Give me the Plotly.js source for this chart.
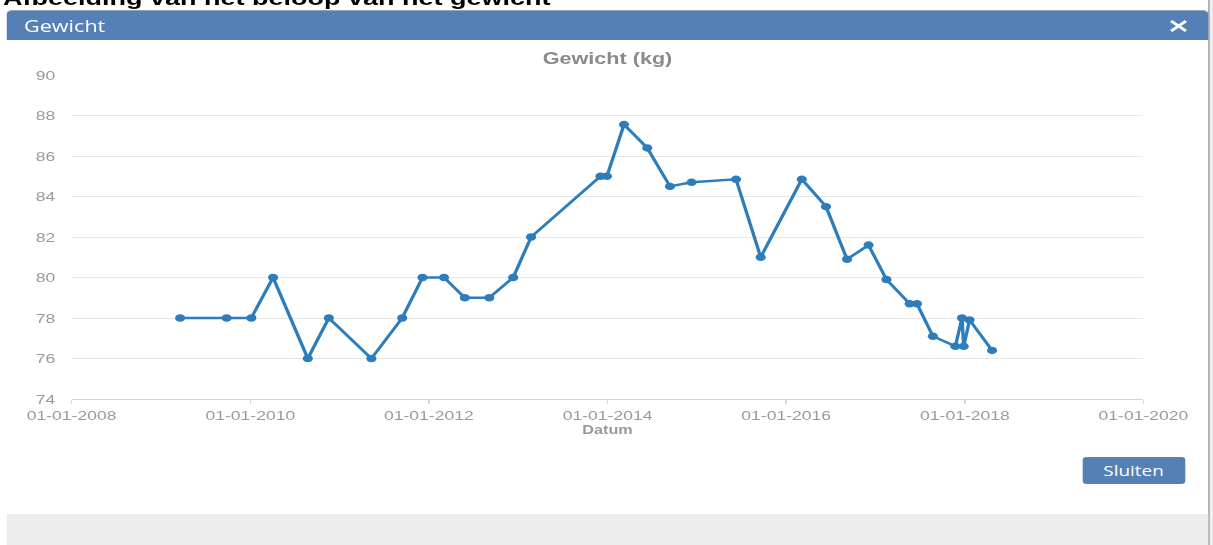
<!DOCTYPE html>
<html>
<head>
<meta charset="utf-8">
<script src="https://cdn.plot.ly/plotly-3.0.1.min.js"></script>
<style>
  html, body { margin:0; padding:0; background:#ffffff; width:1213px; height:545px; overflow:hidden; }
  #stage { position:absolute; left:0; top:0; width:898.5px; height:545px; transform:scaleX(1.35); transform-origin:0 0; }
  #caption { position:absolute; left:2.2px; top:-12px; font:bold 20px/20px "Liberation Sans", Arial, sans-serif; color:#000; white-space:nowrap; }
  #header { position:absolute; left:5.2px; top:10px; width:889.6px; height:30px; background:#5580b5; border-radius:4px 4px 0 0; border-top:1px solid #9aa5b3; box-sizing:border-box; }
  #header .t { position:absolute; left:12.6px; top:5px; font:16px/20px "Open Sans", "Liberation Sans", sans-serif; color:#fff; }
  #close { position:absolute; left:865.5px; top:20px; }
  #footer { position:absolute; left:5.2px; top:514px; width:889.6px; height:31px; background:#ececec; }
  #rightedge { position:absolute; left:894.8px; top:0; width:4px; height:545px; background:#eeeeee; border-left:1.2px solid #9a9a9a; }
  #btn { position:absolute; left:801.5px; top:457px; width:76.3px; height:27px; background:#5580b5; border-radius:3px; color:#fff; font:14px/27px "Open Sans", "Liberation Sans", sans-serif; text-align:center; }
  #plot { position:absolute; left:0; top:0; width:899px; height:545px; }
</style>
</head>
<body>
<div id="stage">
  <div id="caption">Afbeelding van het beloop van het gewicht</div>
  <div id="rightedge"></div>
  <div id="header"><span class="t">Gewicht</span></div>
  <svg id="close" width="14" height="12" viewBox="0 0 14 12"><path d="M1.5 1 L12.5 11 M12.5 1 L1.5 11" stroke="#ffffff" stroke-width="2.4" fill="none"/></svg>
  <div id="footer"></div>
  <div id="btn">Sluiten</div>
  <div id="plot"></div>
</div>
<script>
// ---- data ----
const dates = [
  '2009-03-20','2009-09-26','2010-01-05','2010-04-04','2010-08-24','2010-11-18',
  '2011-05-11','2011-09-14','2011-12-06','2012-03-03','2012-05-27','2012-09-04',
  '2012-12-11','2013-02-22','2013-12-03','2013-12-29','2014-03-09','2014-06-12',
  '2014-09-13','2014-12-10','2015-06-10','2015-09-19','2016-03-05','2016-06-12',
  '2016-09-06','2016-12-03','2017-02-14','2017-05-20','2017-06-19','2017-08-23',
  '2017-11-23','2017-12-20','2017-12-27','2018-01-20','2018-04-22'
];
const weights = [
  78, 78, 78, 80, 76, 78,
  76, 78, 80, 80, 79, 79,
  80, 82, 85, 85, 87.55, 86.4,
  84.5, 84.7, 84.85, 81, 84.85, 83.5,
  80.9, 81.6, 79.9, 78.7, 78.7, 77.1,
  76.6, 78, 76.6, 77.9, 76.4
];
const xTickVals = ['2008-01-01','2010-01-01','2012-01-01','2014-01-01','2016-01-01','2018-01-01','2020-01-01'];
const xTickText = ['01-01-2008','01-01-2010','01-01-2012','01-01-2014','01-01-2016','01-01-2018','01-01-2020'];
const yTickVals = [74, 76, 78, 80, 82, 84, 86, 88, 90];
const chartTitle = 'Gewicht (kg)';
const xTitle = 'Datum';

const FONT = '"Liberation Sans", Arial, sans-serif';
const trace = {
  type: 'scatter', mode: 'lines+markers',
  x: dates, y: weights,
  line: { color: '#2d7dbc', width: 2.5 },
  marker: { color: '#2d7dbc', size: 7.5, symbol: 'circle' },
  showlegend: false
};
const layout = {
  width: 899, height: 545,
  margin: { l: 53, r: 52, t: 75, b: 146, pad: 0 },
  paper_bgcolor: 'rgba(0,0,0,0)', plot_bgcolor: 'rgba(0,0,0,0)',
  font: { family: FONT, color: '#999999', size: 13 },
  title: { text: chartTitle, font: { family: FONT, size: 16, color: '#8a8a8a', weight: 'bold' },
           x: 0.5, xanchor: 'center', xref: 'paper', y: 1 - 58/545, yref: 'container', yanchor: 'middle' },
  xaxis: {
    type: 'date', range: ['2008-01-01', '2020-01-01'],
    tickmode: 'array', tickvals: xTickVals, ticktext: xTickText,
    ticks: 'outside', ticklen: 4, tickcolor: '#ccd6eb', tickwidth: 1,
    showline: true, linecolor: '#ccd6eb', linewidth: 1,
    showgrid: false, zeroline: false, automargin: false,
    tickfont: { family: FONT, size: 13, color: '#9a9a9a' },
    title: { text: xTitle, font: { family: FONT, size: 12, color: '#999999', weight: 'bold' }, standoff: 4 }
  },
  yaxis: {
    range: [74, 90], tickmode: 'array', tickvals: yTickVals,
    showgrid: true, gridcolor: '#e6e6e6', gridwidth: 1,
    showline: false, zeroline: false, ticks: '', automargin: false,
    ticklabelstandoff: 11,
    tickfont: { family: FONT, size: 13, color: '#9a9a9a' }
  }
};
Plotly.newPlot('plot', [trace], layout, { staticPlot: true, displayModeBar: false });
</script>
</body>
</html>
